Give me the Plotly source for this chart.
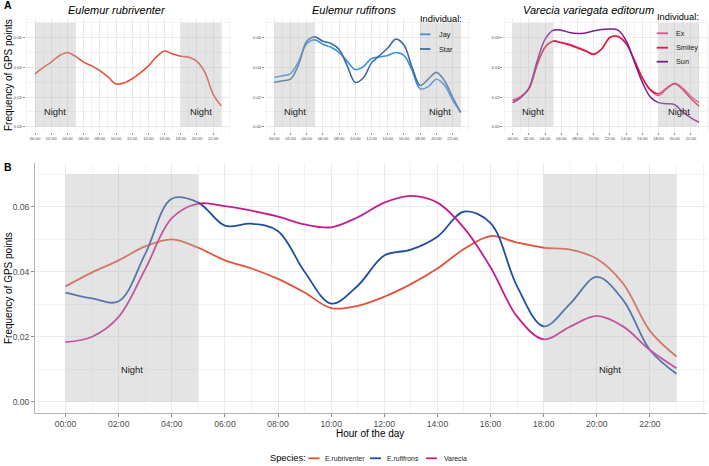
import plotly.graph_objects as go

# ---------------- data ----------------
hours = list(range(24))

# Species-level curves (panel B); panel A1 is the same E. rubriventer curve
rubriventer = [0.0355, 0.0398, 0.0435, 0.0478, 0.0500, 0.0474, 0.0435, 0.0410, 0.0378, 0.0336,
               0.0288, 0.0295, 0.0323, 0.0362, 0.0410, 0.0470, 0.0510, 0.0490, 0.0474, 0.0468,
               0.0440, 0.0363, 0.0218, 0.0139]
rufifrons = [0.0336, 0.0318, 0.0309, 0.0455, 0.0625, 0.0613, 0.0542, 0.0548, 0.0525, 0.0400,
             0.0302, 0.0357, 0.0450, 0.0468, 0.0508, 0.0585, 0.0550, 0.0355, 0.0232, 0.0302,
             0.0384, 0.0312, 0.0159, 0.0086]
varecia = [0.0183, 0.0200, 0.0261, 0.0408, 0.0565, 0.0610, 0.0602, 0.0588, 0.0570, 0.0546,
           0.0537, 0.0568, 0.0613, 0.0634, 0.0613, 0.0535, 0.0414, 0.0262, 0.0192, 0.0231,
           0.0264, 0.0231, 0.0159, 0.0103]

# Individuals (E. rufifrons)
jay = [0.0333, 0.0343, 0.0358, 0.0440, 0.0560, 0.0585, 0.0555, 0.0535, 0.0500, 0.0440,
       0.0385, 0.0405, 0.0460, 0.0470, 0.0480, 0.0500, 0.0480, 0.0380, 0.0255, 0.0270,
       0.0320, 0.0280, 0.0180, 0.0098]
star = [0.0299, 0.0310, 0.0320, 0.0420, 0.0575, 0.0605, 0.0575, 0.0560, 0.0520, 0.0410,
        0.0298, 0.0330, 0.0430, 0.0480, 0.0530, 0.0590, 0.0550, 0.0400, 0.0278, 0.0320,
        0.0366, 0.0310, 0.0200, 0.0095]

# Individuals (Varecia variegata editorum)
ex = [0.0180, 0.0205, 0.0255, 0.0415, 0.0535, 0.0578, 0.0568, 0.0555, 0.0535, 0.0512,
      0.0490, 0.0525, 0.0600, 0.0608, 0.0560, 0.0450, 0.0330, 0.0245, 0.0210, 0.0255,
      0.0292, 0.0260, 0.0205, 0.0162]
smiley = [0.0172, 0.0200, 0.0255, 0.0415, 0.0535, 0.0575, 0.0565, 0.0550, 0.0530, 0.0510,
          0.0487, 0.0525, 0.0602, 0.0608, 0.0560, 0.0450, 0.0330, 0.0250, 0.0222, 0.0260,
          0.0290, 0.0250, 0.0190, 0.0138]
sun = [0.0160, 0.0195, 0.0260, 0.0440, 0.0590, 0.0650, 0.0650, 0.0635, 0.0628, 0.0632,
       0.0645, 0.0655, 0.0658, 0.0650, 0.0580, 0.0440, 0.0300, 0.0200, 0.0162, 0.0155,
       0.0148, 0.0100, 0.0060, 0.0030]

x_tick_vals = [0, 2, 4, 6, 8, 10, 12, 14, 16, 18, 20, 22]
x_tick_text = ["00:00", "02:00", "04:00", "06:00", "08:00", "10:00",
               "12:00", "14:00", "16:00", "18:00", "20:00", "22:00"]
y_tick_vals = [0.00, 0.02, 0.04, 0.06]
night_start = [0, 18]
night_end = [5, 23]
night_top = 0.07
night_label_x = [2.5, 20.5]
night_label_y = 0.01

panel_titles = ["Eulemur rubriventer", "Eulemur rufifrons", "Varecia variegata editorum"]
species_names = ["E.rubriventer", "E.rufifrons", "Varecia"]
rufi_names = ["Jay", "Star"]
vare_names = ["Ex", "Smiley", "Sun"]

# ---------------- style ----------------
W, H = 709, 466
FONT = "Liberation Sans, Arial, sans-serif"
C_RUB = "#E1523A"
C_RUF = "#1E4FA0"
C_VAR = "#C41E8E"
C_JAY = "#3C92DF"
C_STAR = "#3E6C9E"
C_EX = "#EA4A97"
C_SMI = "#E2193C"
C_SUN = "#7C1C8E"
GRID = "#EBEBEB"
GRID_MINOR = "#F3F3F3"
TICKC = "#4D4D4D"


def px_x(x):
    return x / W


def px_y(y):
    return 1 - y / H


XR = [-1.15, 24.15]
YR = [-0.0035, 0.0735]

fig = go.Figure()

panels = {
    "A1": dict(xa="x", ya="y", dom_x=(25.7, 230.6), dom_y=(17.6, 131.9), small=True),
    "A2": dict(xa="x2", ya="y2", dom_x=(265.0, 470.0), dom_y=(17.6, 131.9), small=True),
    "A3": dict(xa="x3", ya="y3", dom_x=(503.4, 708.3), dom_y=(17.6, 131.9), small=True),
    "B": dict(xa="x4", ya="y4", dom_x=(35.0, 707.0), dom_y=(163.0, 413.0), small=False),
}

layout_axes = {}
for key, p in panels.items():
    xname = "xaxis" + p["xa"][1:]
    yname = "yaxis" + p["ya"][1:]
    small = p["small"]
    tf = 4.2 if small else 8.6
    common = dict(showgrid=True, gridcolor=GRID, gridwidth=1 if small else 1.2,
                  zeroline=False, ticks="outside", ticklen=2 if small else 3,
                  tickcolor="#8C8C8C", tickwidth=0.6 if small else 0.8,
                  tickfont=dict(family=FONT, size=tf, color=TICKC),
                  showline=not small, linecolor="#B3B3B3", linewidth=0.8,
                  fixedrange=True)
    layout_axes[xname] = dict(
        common, domain=[px_x(p["dom_x"][0]), px_x(p["dom_x"][1])], range=XR,
        tickmode="array", tickvals=x_tick_vals, ticktext=x_tick_text,
        anchor=p["ya"],
        minor=dict(dtick=1, tick0=1, showgrid=True, gridcolor=GRID_MINOR, gridwidth=0.6, ticks=""),
    )
    layout_axes[yname] = dict(
        common, domain=[px_y(p["dom_y"][1]), px_y(p["dom_y"][0])], range=YR,
        tickmode="array", tickvals=y_tick_vals, tickformat=".2f",
        anchor=p["xa"],
        minor=dict(dtick=0.01, tick0=0.01, showgrid=True, gridcolor=GRID_MINOR, gridwidth=0.6, ticks=""),
    )


def add_line(xa, ya, y, color, width, name):
    fig.add_trace(go.Scatter(
        x=hours, y=y, mode="lines", name=name, showlegend=False,
        line=dict(color=color, width=width, shape="spline", smoothing=1.0),
        xaxis=xa, yaxis=ya, hoverinfo="skip"))


# panel A1
add_line("x", "y", rubriventer, C_RUB, 1.6, "E.rubriventer")
# panel A2
add_line("x2", "y2", jay, C_JAY, 1.6, rufi_names[0])
add_line("x2", "y2", star, C_STAR, 1.6, rufi_names[1])
# panel A3
add_line("x3", "y3", ex, C_EX, 1.5, vare_names[0])
add_line("x3", "y3", smiley, C_SMI, 1.5, vare_names[1])
add_line("x3", "y3", sun, C_SUN, 1.5, vare_names[2])
# panel B
add_line("x4", "y4", rubriventer, C_RUB, 1.8, species_names[0])
add_line("x4", "y4", rufifrons, C_RUF, 1.8, species_names[1])
add_line("x4", "y4", varecia, C_VAR, 1.8, species_names[2])

shapes = []
annotations = []

# Night rectangles (drawn on top, semi transparent) + labels
for key, p in panels.items():
    for s, e, lx in zip(night_start, night_end, night_label_x):
        shapes.append(dict(type="rect", xref=p["xa"], yref=p["ya"], x0=s, x1=e, y0=0, y1=night_top,
                           fillcolor="rgb(185,185,185)", opacity=0.38, line=dict(width=0),
                           layer="above"))
        annotations.append(dict(text="Night", x=lx, y=night_label_y, xref=p["xa"], yref=p["ya"],
                                showarrow=False, font=dict(family=FONT, size=9.4, color="#1A1A1A")))

# Panel titles
title_x = [117.2, 354.2, 588.3]
for t, tx in zip(panel_titles, title_x):
    annotations.append(dict(text="<i>" + t + "</i>", x=px_x(tx), y=px_y(9.5), xref="paper", yref="paper",
                            showarrow=False, font=dict(family=FONT, size=11, color="#000000"),
                            xanchor="center", yanchor="middle"))

# Panel tags
annotations.append(dict(text="<b>A</b>", x=px_x(2), y=px_y(5.5), xref="paper", yref="paper", showarrow=False,
                        xanchor="left", yanchor="middle", font=dict(family=FONT, size=10.5, color="#000")))
annotations.append(dict(text="<b>B</b>", x=px_x(2), y=px_y(167), xref="paper", yref="paper", showarrow=False,
                        xanchor="left", yanchor="middle", font=dict(family=FONT, size=10.5, color="#000")))

# Y axis titles
for cy in [75, 288]:
    annotations.append(dict(text="Frequency of GPS points", x=px_x(8), y=px_y(cy), xref="paper", yref="paper",
                            showarrow=False, textangle=-90, xanchor="center", yanchor="middle",
                            font=dict(family=FONT, size=10, color="#000")))
# X axis title
annotations.append(dict(text="Hour of the day", x=px_x(370), y=px_y(433), xref="paper", yref="paper",
                        showarrow=False, xanchor="center", yanchor="middle",
                        font=dict(family=FONT, size=10, color="#000")))


def legend_item(x0, x1, yc, color, label, tx, fsize):
    shapes.append(dict(type="line", xref="paper", yref="paper", x0=px_x(x0), x1=px_x(x1),
                       y0=px_y(yc), y1=px_y(yc), line=dict(color=color, width=1.8), layer="above"))
    annotations.append(dict(text=label, x=px_x(tx), y=px_y(yc), xref="paper", yref="paper", showarrow=False,
                            xanchor="left", yanchor="middle", font=dict(family=FONT, size=fsize, color="#1A1A1A")))


# Legend A2
annotations.append(dict(text="Individual:", x=px_x(417.5), y=px_y(19), xref="paper", yref="paper",
                        showarrow=False, xanchor="left", yanchor="middle",
                        font=dict(family=FONT, size=9.3, color="#000")))
legend_item(420, 430.5, 34.3, C_JAY, rufi_names[0], 436.5, 7.3)
legend_item(420, 430.5, 49.0, C_STAR, rufi_names[1], 436.5, 7.3)

# Legend A3
annotations.append(dict(text="Individual:", x=px_x(654.5), y=px_y(17.3), xref="paper", yref="paper",
                        showarrow=False, xanchor="left", yanchor="middle",
                        font=dict(family=FONT, size=9.3, color="#000")))
legend_item(656.7, 668, 33.3, C_EX, vare_names[0], 674, 7.3)
legend_item(656.7, 668, 47.7, C_SMI, vare_names[1], 674, 7.3)
legend_item(656.7, 668, 61.7, C_SUN, vare_names[2], 674, 7.3)

# Legend B (bottom)
annotations.append(dict(text="Species:", x=px_x(268), y=px_y(458.3), xref="paper", yref="paper",
                        showarrow=False, xanchor="left", yanchor="middle",
                        font=dict(family=FONT, size=9.3, color="#000")))
legend_item(308.3, 319.5, 458.3, C_RUB, species_names[0], 322.5, 6.9)
legend_item(370.0, 381.0, 458.3, C_RUF, species_names[1], 385.0, 6.9)
legend_item(426.0, 437.0, 458.3, C_VAR, species_names[2], 441.5, 6.9)

fig.update_layout(
    width=W, height=H, margin=dict(l=0, r=0, t=0, b=0),
    paper_bgcolor="white", plot_bgcolor="white",
    showlegend=False, shapes=shapes, annotations=annotations,
    font=dict(family=FONT),
    **layout_axes,
)

fig.write_html("out.html", config={"displayModeBar": False})
